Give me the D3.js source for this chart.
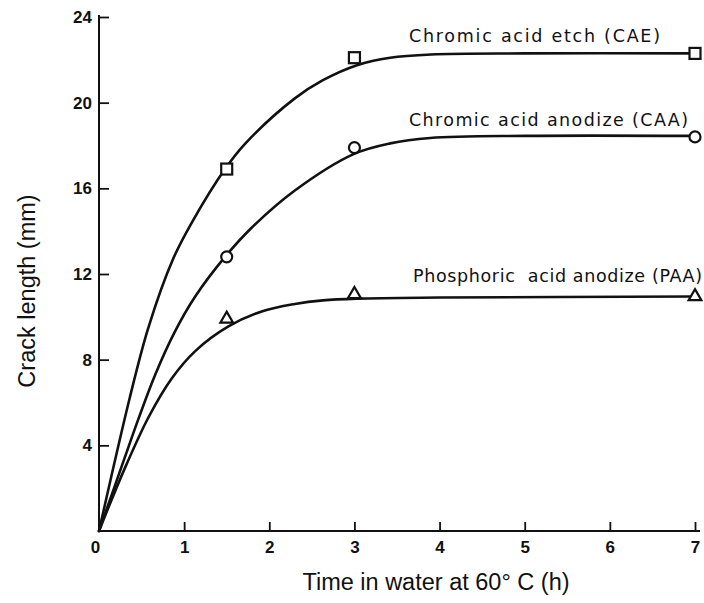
<!DOCTYPE html>
<html>
<head>
<meta charset="utf-8">
<script src="https://cdn.jsdelivr.net/npm/d3@7"></script>
<style>
  html, body { margin: 0; padding: 0; background: #fff; }
  svg { display: block; }
</style>
</head>
<body>
<svg id="chart" width="704" height="603"></svg>
<script>
// Tick values
const hourTicks = [0, 1, 2, 3, 4, 5, 6, 7];
const lengthTicks = [4, 8, 12, 16, 20, 24];

// Measured points (time in h, crack length in mm)
const measuredHours = [1.5, 3, 7];
const caeMeasured = [16.9, 22.1, 22.3];
const caaMeasured = [12.8, 17.9, 18.4];
const paaMeasured = [9.9, 11.05, 10.95];

// Fitted curves
const caeCurveHours = [0, 0.36, 0.58, 0.87, 1.09, 1.48, 1.72, 2.3, 2.63, 3.03, 3.42, 3.9, 5, 7];
const caeCurve      = [0, 6.2, 9.5, 12.7, 14.4, 16.9, 18.1, 20.2, 21.05, 21.75, 22.1, 22.25, 22.3, 22.3];
const caaCurveHours = [0, 0.3, 0.46, 0.66, 0.89, 1.13, 1.48, 1.79, 2.3, 2.99, 3.42, 3.89, 5, 7];
const caaCurve      = [0, 3.4, 5.2, 7.3, 9.3, 10.95, 12.8, 14.15, 15.9, 17.6, 18.1, 18.35, 18.45, 18.45];
const paaCurveHours = [0, 0.3, 0.58, 0.85, 1.13, 1.52, 1.91, 2.3, 2.63, 3.03, 4, 7];
const paaCurve      = [0, 2.9, 5.3, 7.1, 8.4, 9.55, 10.25, 10.6, 10.77, 10.85, 10.9, 10.95];

const seriesLabels = [
  "Chromic acid etch (CAE)",
  "Chromic acid anodize (CAA)",
  "Phosphoric  acid anodize (PAA)"
];

const svg = d3.select("#chart");
const ink = "#111";

const x = d3.scaleLinear().domain([0, 7]).range([99, 695]);
const y = d3.scaleLinear().domain([0, 24]).range([531, 17]);

// Axes with inward ticks
const xAxis = d3.axisBottom(x)
  .tickValues(hourTicks)
  .tickFormat(d3.format("d"))
  .tickSizeInner(-9)
  .tickSizeOuter(0)
  .tickPadding(10);

const yAxis = d3.axisLeft(y)
  .tickValues(lengthTicks)
  .tickFormat(d3.format("d"))
  .tickSizeInner(-10)
  .tickSizeOuter(0)
  .tickPadding(7);

const gx = svg.append("g").attr("transform", `translate(0,${y(0)})`).call(xAxis);
const gy = svg.append("g").attr("transform", `translate(${x(0)},0)`).call(yAxis);

[gx, gy].forEach(g => {
  g.attr("font-size", null).attr("font-family", null);
  g.select(".domain").attr("stroke", ink).attr("stroke-width", 2);
  g.selectAll(".tick line").attr("stroke", ink).attr("stroke-width", 1.8);
  g.selectAll(".tick text")
    .attr("fill", ink)
    .attr("font-family", "'Liberation Sans', Arial, sans-serif")
    .attr("font-size", 17)
    .attr("font-weight", "bold");
});
gx.selectAll(".tick").filter(d => d === 0).select("text").attr("x", -4);
gy.select(".domain").attr("d", `M0,${y(0)}V${y(24) - 2}`);
gx.select(".domain").attr("d", `M${x(0)},0H${x(7) + 5}`);

// Axis titles
svg.append("text")
  .attr("x", 436).attr("y", 590)
  .attr("text-anchor", "middle")
  .attr("fill", ink)
  .attr("font-family", "'Liberation Sans', Arial, sans-serif")
  .attr("font-size", 23.5)
  .text("Time in water at 60° C (h)");

svg.append("text")
  .attr("transform", "translate(35,291) rotate(-90)")
  .attr("text-anchor", "middle")
  .attr("fill", ink)
  .attr("font-family", "'Liberation Sans', Arial, sans-serif")
  .attr("font-size", 23.5)
  .text("Crack length (mm)");

// Curves
const line = d3.line()
  .x(d => x(d[0]))
  .y(d => y(d[1]))
  .curve(d3.curveCatmullRom.alpha(0.5));

const curves = [
  [caeCurveHours, caeCurve],
  [caaCurveHours, caaCurve],
  [paaCurveHours, paaCurve]
];

svg.append("g").selectAll("path")
  .data(curves)
  .join("path")
  .attr("d", ([hs, vs]) => line(d3.zip(hs, vs)))
  .attr("fill", "none")
  .attr("stroke", ink)
  .attr("stroke-width", 2.6)
  .attr("stroke-linecap", "round");

// Markers
const markers = svg.append("g")
  .attr("fill", "#fff")
  .attr("stroke", ink)
  .attr("stroke-width", 2.2);

markers.selectAll("rect")
  .data(d3.zip(measuredHours, caeMeasured))
  .join("rect")
  .attr("x", d => x(d[0]) - 5.5)
  .attr("y", d => y(d[1]) - 5.5)
  .attr("width", 11)
  .attr("height", 11);

markers.selectAll("circle")
  .data(d3.zip(measuredHours, caaMeasured))
  .join("circle")
  .attr("cx", d => x(d[0]))
  .attr("cy", d => y(d[1]))
  .attr("r", 5.5);

const tri = d3.symbol().type(d3.symbolTriangle).size(70);
markers.selectAll("path")
  .data(d3.zip(measuredHours, paaMeasured))
  .join("path")
  .attr("transform", d => `translate(${x(d[0])},${y(d[1])})`)
  .attr("d", tri);

// Series labels
const labelPos = [
  { x: 409, y: 42, w: 251 },
  { x: 409, y: 126, w: 279 },
  { x: 413, y: 282, w: 289 }
];

svg.append("g").selectAll("text")
  .data(seriesLabels)
  .join("text")
  .attr("x", (d, i) => labelPos[i].x)
  .attr("y", (d, i) => labelPos[i].y)
  .attr("textLength", (d, i) => labelPos[i].w)
  .attr("lengthAdjust", "spacing")
  .attr("fill", ink)
  .attr("font-family", "'DejaVu Sans', sans-serif")
  .attr("font-size", 17.5)
  .style("white-space", "pre")
  .text(d => d);
</script>
</body>
</html>
